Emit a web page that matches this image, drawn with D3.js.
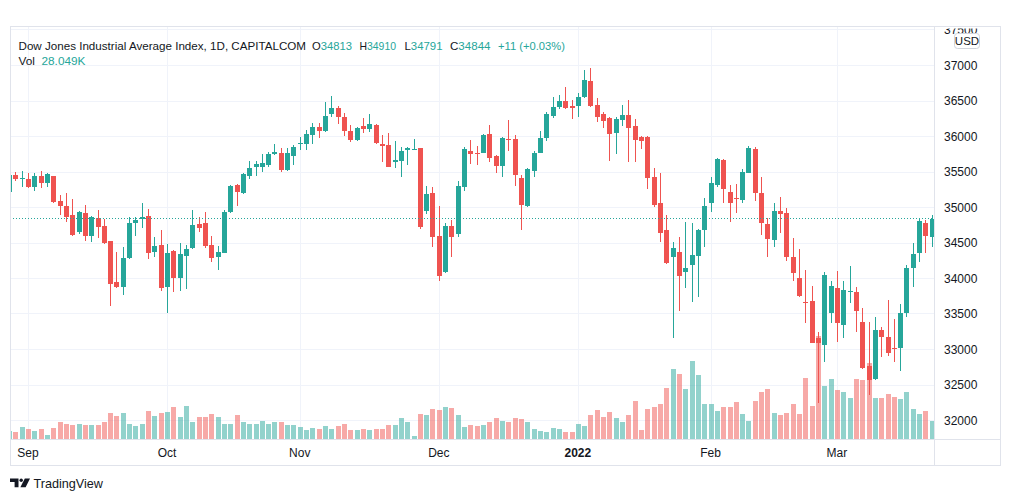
<!DOCTYPE html>
<html><head><meta charset="utf-8">
<script src="https://cdn.jsdelivr.net/npm/d3@7/dist/d3.min.js"></script>
<style>
html,body{margin:0;padding:0;background:#fff;}
svg{display:block;}
text{font-family:"Liberation Sans", Arial, sans-serif;}
</style></head><body>
<svg id="chart" width="1012" height="501"></svg>
<script>
// ---------- DATA ----------
const dates = [
"2021-08-27","2021-08-30","2021-08-31",
"2021-09-01","2021-09-02","2021-09-03","2021-09-06","2021-09-07","2021-09-08","2021-09-09","2021-09-10","2021-09-13","2021-09-14","2021-09-15","2021-09-16","2021-09-17","2021-09-20","2021-09-21","2021-09-22","2021-09-23","2021-09-24","2021-09-27","2021-09-28","2021-09-29","2021-09-30",
"2021-10-01","2021-10-04","2021-10-05","2021-10-06","2021-10-07","2021-10-08","2021-10-11","2021-10-12","2021-10-13","2021-10-14","2021-10-15","2021-10-18","2021-10-19","2021-10-20","2021-10-21","2021-10-22","2021-10-25","2021-10-26","2021-10-27","2021-10-28","2021-10-29",
"2021-11-01","2021-11-02","2021-11-03","2021-11-04","2021-11-05","2021-11-08","2021-11-09","2021-11-10","2021-11-11","2021-11-12","2021-11-15","2021-11-16","2021-11-17","2021-11-18","2021-11-19","2021-11-22","2021-11-23","2021-11-24","2021-11-25","2021-11-26","2021-11-29","2021-11-30",
"2021-12-01","2021-12-02","2021-12-03","2021-12-06","2021-12-07","2021-12-08","2021-12-09","2021-12-10","2021-12-13","2021-12-14","2021-12-15","2021-12-16","2021-12-17","2021-12-20","2021-12-21","2021-12-22","2021-12-23","2021-12-27","2021-12-28","2021-12-29","2021-12-30","2021-12-31",
"2022-01-03","2022-01-04","2022-01-05","2022-01-06","2022-01-07","2022-01-10","2022-01-11","2022-01-12","2022-01-13","2022-01-14","2022-01-17","2022-01-18","2022-01-19","2022-01-20","2022-01-21","2022-01-24","2022-01-25","2022-01-26","2022-01-27","2022-01-28","2022-01-31",
"2022-02-01","2022-02-02","2022-02-03","2022-02-04","2022-02-07","2022-02-08","2022-02-09","2022-02-10","2022-02-11","2022-02-14","2022-02-15","2022-02-16","2022-02-17","2022-02-18","2022-02-21","2022-02-22","2022-02-23","2022-02-24","2022-02-25","2022-02-28",
"2022-03-01","2022-03-02","2022-03-03","2022-03-04","2022-03-07","2022-03-08","2022-03-09","2022-03-10","2022-03-11","2022-03-14","2022-03-15","2022-03-16","2022-03-17","2022-03-18","2022-03-21","2022-03-22","2022-03-23"
];
const open = [
35218,35460,35405,35400,35293,35444,35350,35448,35092,35021,
34894,34660,34927,34599,34847,34740,34533,33946,33885,34284,
34777,34833,34880,34378,34472,33885,34392,34012,34322,34425,
34768,34786,34472,34307,34364,34941,35317,35200,35444,35566,
35566,35599,35754,35772,35528,35730,35900,35894,36021,36129,
36082,36317,36397,36270,36082,35951,36148,36101,36162,35894,
35880,35646,35660,35810,35819,35833,34955,35200,34599,34096,
34739,34626,35293,35800,35767,35772,36035,35725,35584,35964,
35960,35410,35021,35518,35772,35974,36288,36420,36504,36429,
36429,36551,36786,36443,36316,36255,36053,36232,36302,36147,
35997,35988,35425,35059,34683,34308,34369,34096,34190,34322,
34683,35059,35317,35669,35223,35138,35106,35491,35819,35199,
34768,34542,34955,34918,34308,34003,33674,33688,33158,33064,
33510,33862,33345,33815,33815,33383,32772,32580,33275,33181,
33017,33017,33510,34144,34355,34777,34590,34813];
const high = [
35480,35505,35515,35490,35481,35514,35491,35450,35176,35200,
35115,34955,35035,34880,34965,34833,34535,34378,34439,34871,
34861,35068,34974,34589,34683,34486,34401,34495,34472,34965,
34861,34941,34599,34458,34965,35317,35331,35491,35660,35660,
35754,35786,35894,35833,35833,35880,35998,36092,36186,36186,
36491,36570,36430,36336,36162,36129,36256,36317,36176,36021,
36045,35941,35847,35857,35960,35833,35303,35284,35021,34786,
34823,35377,35847,35950,35866,36035,36162,35739,35988,36232,
36021,35457,35551,35800,36082,36349,36551,36584,36701,36514,
36607,36936,36960,36537,36349,36269,36279,36443,36513,36241,
36006,36006,35552,35491,34894,34519,34589,34801,34777,34693,
35129,35425,35692,35678,35317,35331,35538,35866,35847,35425,
34847,35059,35153,34988,34566,34411,34120,33894,33251,34097,
33970,34106,33970,34176,33885,33580,33392,33463,33322,33698,
33425,33641,34190,34496,34834,34824,34895,34910];
const low = [
35200,35380,35295,35270,35237,35270,35284,35059,34894,34800,
34599,34627,34533,34519,34566,34490,33617,33861,33768,34275,
34603,34707,34275,34307,33829,33519,33815,33829,33847,34411,
34650,34425,34237,34120,34354,34918,35026,35190,35397,35444,
35505,35566,35739,35505,35519,35599,35810,35810,35894,35974,
36068,36279,36176,36007,35927,35941,36045,36068,35894,35646,
35566,35552,35425,35599,35810,34693,34909,34448,33970,34073,
34298,34589,35237,35612,35598,35762,35645,35481,35424,35800,
35302,34683,35002,35424,35762,35941,36255,36382,36382,36241,
36269,36537,36420,36208,36114,35659,35753,36147,35645,35645,
35819,35262,35002,34519,34200,33157,33547,33862,33665,33735,
34439,34941,35284,35068,34801,34927,35059,35481,35096,34613,
34308,34439,34646,34251,33970,33735,33369,33087,32250,32829,
33378,33111,33158,33651,33251,32726,32359,32571,32899,32909,
32829,32702,33453,33876,34237,34355,34449,34791];
const close = [
35458,35400,35420,35295,35448,35350,35472,35082,35026,34871,
34613,34941,34603,34871,34730,34495,33923,33885,34284,34777,
34824,34861,34354,34458,33861,34354,34002,34345,34411,34754,
34716,34458,34293,34368,34941,35303,35223,35472,35552,35613,
35622,35754,35786,35528,35772,35857,35910,36035,36139,36082,
36289,36397,36279,36082,35951,36115,36101,36176,35904,35871,
35575,35669,35800,35833,35829,34721,35190,34580,34035,34740,
34589,35302,35819,35753,35762,36021,35692,35584,35974,35950,
35457,35035,35537,35772,35974,36316,36420,36504,36396,36396,
36551,36795,36429,36279,36222,36035,36241,36302,36114,35950,
35941,35410,35035,34636,34214,34425,34040,34143,34331,34683,
35021,35340,35678,35256,35059,35120,35505,35833,35209,34786,
34552,34955,34908,34308,34073,33754,33651,33096,33097,34050,
33895,33369,33838,33825,33547,32735,32571,33275,33181,32956,
33003,33510,34144,34345,34810,34604,34833,34844];
// volume in thousands
const volume = [
17,15,25,21,17,21,9,23,33,31,
29,31,29,29,29,35,53,47,53,31,
27,31,57,47,53,55,65,45,67,35,
45,45,51,45,30,31,49,35,30,31,
37,31,33,33,29,29,25,19,23,20,
27,21,27,31,19,19,20,19,20,20,
29,29,43,33,7,51,49,61,59,65,
63,49,25,29,27,29,35,42,37,35,
42,40,35,20,17,15,22,20,15,15,
30,27,49,58,45,55,42,35,49,77,
19,60,65,69,102,140,131,100,157,129,
71,71,57,65,65,73,51,37,77,95,
101,53,49,53,71,51,123,67,206,107,
120,98,95,82,120,118,152,82,82,90,
85,80,95,60,51,57,37,28.049];
const monthTickDates = ["2021-09-01","2021-10-01","2021-11-01","2021-12-01","2022-01-03","2022-02-01","2022-03-01"];
const monthTickLabels = ["Sep","Oct","Nov","Dec","2022","Feb","Mar"];
const priceTicks = [32000,32500,33000,33500,34000,34500,35000,35500,36000,36500,37000,37500];
const title = "Dow Jones Industrial Average Index, 1D, CAPITALCOM";

// ---------- LAYOUT ----------
const UP = "#26a69a", DOWN = "#ef5350";
const UPV = "rgba(38,166,154,0.5)", DOWNV = "rgba(239,83,80,0.5)";
const GRID = "#f0f3fa", BORDER = "#e0e3eb", TXT = "#131722";
const paneL = 10, paneR = 934, paneT = 26, paneB = 439, frameR = 1001, frameB = 466;

const svg = d3.select("#chart");
const x = d3.scalePoint().domain(dates).range([9.04, 938.08]);
const y = d3.scaleLinear().domain([32000, 37000]).range([420.5, 65.5]);
const yv = d3.scaleLinear().domain([0, 206]).range([439, 336]);

const bars = dates.map((d, i) => ({d, o: open[i], h: high[i], l: low[i], c: close[i], v: volume[i]}));

const defs = svg.append("defs");
defs.append("clipPath").attr("id", "pane").append("rect")
  .attr("x", paneL + 0.5).attr("y", paneT + 0.5).attr("width", paneR - paneL - 0.5).attr("height", paneB - paneT - 0.5);
defs.append("clipPath").attr("id", "paxis").append("rect")
  .attr("x", paneR).attr("y", paneT + 2.5).attr("width", frameR - paneR).attr("height", paneB - paneT);

// grid
const grid = svg.append("g").attr("clip-path", "url(#pane)");
grid.selectAll("line.h").data(priceTicks).join("line")
  .attr("x1", paneL).attr("x2", paneR)
  .attr("y1", d => Math.floor(y(d)) + 0.5).attr("y2", d => Math.floor(y(d)) + 0.5)
  .attr("stroke", GRID);
grid.selectAll("line.v").data(monthTickDates).join("line")
  .attr("y1", paneT).attr("y2", paneB)
  .attr("x1", d => Math.round(x(d)) + 0.5).attr("x2", d => Math.round(x(d)) + 0.5)
  .attr("stroke", GRID);

// volume
const plot = svg.append("g").attr("clip-path", "url(#pane)");
plot.selectAll("rect.vol").data(bars).join("rect").attr("class", "vol")
  .attr("x", b => Math.round(x(b.d)) - 2).attr("width", 5)
  .attr("y", b => Math.round(yv(b.v))).attr("height", b => 439 - Math.round(yv(b.v)))
  .attr("fill", b => b.c >= b.o ? UPV : DOWNV);

// candles
const cg = plot.selectAll("g.c").data(bars).join("g");
cg.append("rect")
  .attr("x", b => Math.round(x(b.d))).attr("width", 1)
  .attr("y", b => Math.round(y(b.h))).attr("height", b => Math.max(1, Math.round(y(b.l)) - Math.round(y(b.h))))
  .attr("fill", b => b.c >= b.o ? UP : DOWN);
cg.append("rect")
  .attr("x", b => Math.round(x(b.d)) - 2).attr("width", 5)
  .attr("y", b => Math.round(y(Math.max(b.o, b.c))))
  .attr("height", b => Math.max(1, Math.round(y(Math.min(b.o, b.c))) - Math.round(y(Math.max(b.o, b.c)))))
  .attr("fill", b => b.c >= b.o ? UP : DOWN);

// last price dotted line
const last = bars[bars.length - 1], prev = bars[bars.length - 2];
plot.append("line").attr("x1", paneL).attr("x2", paneR)
  .attr("y1", Math.floor(y(last.c)) + 0.5).attr("y2", Math.floor(y(last.c)) + 0.5)
  .attr("stroke", UP).attr("stroke-dasharray", "1,2");

// frame
svg.append("rect").attr("x", paneL + 0.5).attr("y", paneT + 0.5)
  .attr("width", frameR - paneL - 1).attr("height", frameB - paneT - 1)
  .attr("fill", "none").attr("stroke", BORDER);
svg.append("line").attr("x1", paneR + 0.5).attr("x2", paneR + 0.5).attr("y1", paneT).attr("y2", frameB).attr("stroke", BORDER);
svg.append("line").attr("x1", paneL).attr("x2", frameR).attr("y1", paneB + 0.5).attr("y2", paneB + 0.5).attr("stroke", BORDER);

// price axis labels
svg.append("g").attr("clip-path", "url(#paxis)").selectAll("text").data(priceTicks).join("text")
  .attr("x", 944).attr("y", d => y(d)).attr("dy", "0.36em")
  .attr("font-size", 12).attr("fill", TXT).text(d => d);

// USD badge
svg.append("rect").attr("x", 954.5).attr("y", 33.5).attr("width", 25).attr("height", 15).attr("rx", 3)
  .attr("fill", "#fff").attr("stroke", "#d1d4dc");
svg.append("text").attr("x", 967).attr("y", 45).attr("text-anchor", "middle")
  .attr("font-size", 11.5).attr("fill", TXT).text("USD");

// time axis labels
svg.append("g").selectAll("text").data(monthTickDates).join("text")
  .attr("x", d => x(d)).attr("y", 456.5).attr("text-anchor", "middle")
  .attr("font-size", 12).attr("fill", TXT)
  .attr("font-weight", (d, i) => monthTickLabels[i] === "2022" ? "bold" : null)
  .text((d, i) => monthTickLabels[i]);

// header legend: each group is one text element with tspans
function group(xp, yp, parts, len) {
  const t = svg.append("text").attr("x", xp).attr("y", yp).attr("font-size", 11.6);
  parts.forEach(p => t.append("tspan").attr("fill", p[1]).text(p[0]));
  if (len) t.attr("textLength", len).attr("lengthAdjust", "spacingAndGlyphs");
  return t;
}
const chg = last.c - prev.c;
const pct = chg / prev.c * 100;
group(18.5, 50, [[title, TXT]], 287.5);
group(312, 50, [["O", TXT], [String(last.o), UP]], 40);
group(359.5, 50, [["H", TXT], [String(last.h), UP]], 36.5);
group(404.5, 50, [["L", TXT], [String(last.l), UP]], 38);
group(450, 50, [["C", TXT], [String(last.c), UP]], 40.5);
group(498, 50, [[(chg >= 0 ? "+" : "") + chg + " (" + (pct >= 0 ? "+" : "") + pct.toFixed(2) + "%)", UP]], 67);
group(18.5, 64.5, [["Vol\u00a0\u00a0", TXT], [last.v.toFixed(3) + "K", UP]], 67);

// TradingView logo
const logo = svg.append("g").attr("transform", "translate(10,478.5)").attr("fill", TXT);
logo.append("path").attr("d", "M0,0H8.5V8.7H4.6V3.4H0Z");
logo.append("circle").attr("cx", 11.2).attr("cy", 1.7).attr("r", 1.7);
logo.append("path").attr("d", "M14.8,0H20L15.6,8.7H10.4Z");
svg.append("text").attr("x", 33.5).attr("y", 487.5).attr("font-size", 13).attr("fill", TXT)
  .attr("textLength", 69.5).attr("lengthAdjust", "spacingAndGlyphs").text("TradingView");
</script>
</body></html>
